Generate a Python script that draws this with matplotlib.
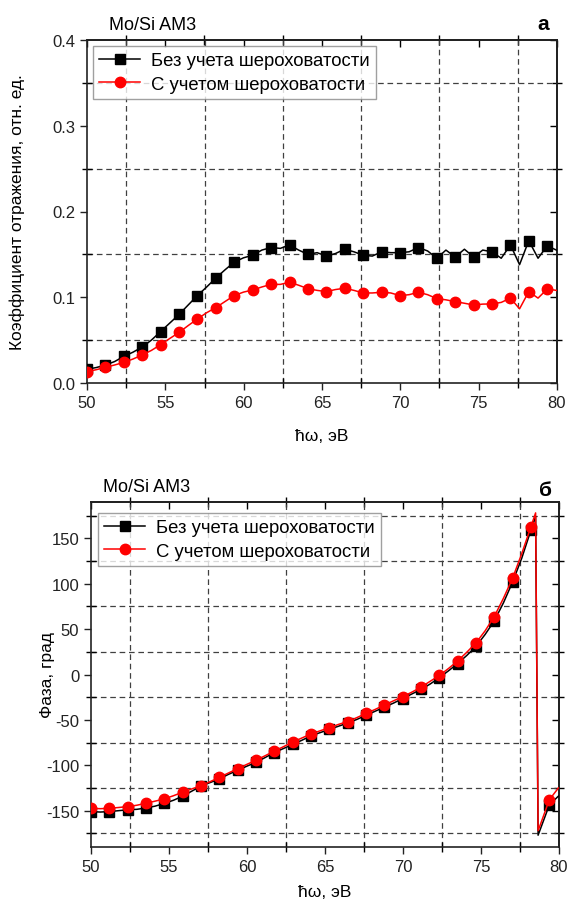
import matplotlib
matplotlib.use("Agg")
import matplotlib.pyplot as plt
from matplotlib.ticker import MultipleLocator

plt.rcParams['font.family'] = ['Liberation Sans', 'DejaVu Sans']
plt.rcParams['axes.unicode_minus'] = False

# ---------------- data ----------------
# energies where markers are drawn
marker_energy = [50.00, 51.18, 52.35, 53.53, 54.70, 55.88, 57.05, 58.23, 59.40, 60.58,
                 61.75, 62.93, 64.10, 65.28, 66.45, 67.63, 68.80, 69.98, 71.15, 72.33,
                 73.50, 74.68, 75.85, 77.03, 78.20, 79.38]

# reflectivity panel (a)
energy_refl = [50.00, 50.59, 51.18, 51.76, 52.35, 52.94, 53.53, 54.11, 54.70, 55.29,
               55.88, 56.46, 57.05, 57.64, 58.23, 58.81, 59.40, 59.99, 60.58, 61.16,
               61.75, 62.34, 62.93, 63.51, 64.10, 64.69, 65.28, 65.86, 66.45, 67.04,
               67.63, 68.21, 68.80, 69.39, 69.98, 70.56, 71.15, 71.74, 72.33, 72.91,
               73.50, 74.09, 74.68, 75.26, 75.85, 76.44, 77.03, 77.61, 78.20, 78.79,
               79.38, 79.96]
refl_smooth = [0.016, 0.018, 0.021, 0.025, 0.031, 0.036, 0.042, 0.050, 0.060, 0.070,
               0.080, 0.091, 0.102, 0.112, 0.1225, 0.132, 0.141, 0.146, 0.149, 0.155,
               0.158, 0.157, 0.161, 0.155, 0.150, 0.152, 0.148, 0.151, 0.156, 0.153,
               0.149, 0.148, 0.153, 0.152, 0.152, 0.153, 0.158, 0.154, 0.1455, 0.155,
               0.147, 0.156, 0.147, 0.155, 0.153, 0.1455, 0.161, 0.138, 0.166, 0.1455,
               0.160, 0.155]
refl_rough = [0.0132, 0.0155, 0.0183, 0.021, 0.024, 0.028, 0.0327, 0.038, 0.0447, 0.052,
              0.059, 0.067, 0.0747, 0.082, 0.088, 0.095, 0.102, 0.106, 0.1085, 0.112,
              0.115, 0.115, 0.1175, 0.114, 0.110, 0.108, 0.1066, 0.109, 0.1105, 0.108,
              0.105, 0.105, 0.1058, 0.105, 0.1019, 0.103, 0.1058, 0.103, 0.0984, 0.097,
              0.0949, 0.093, 0.091, 0.092, 0.0922, 0.094, 0.099, 0.0865, 0.1066, 0.099,
              0.1097, 0.108]

# phase panel (б)
energy_phase = [50.00, 50.59, 51.18, 51.76, 52.35, 52.94, 53.53, 54.11, 54.70, 55.29,
                55.88, 56.46, 57.05, 57.64, 58.23, 58.81, 59.40, 59.99, 60.58, 61.16,
                61.75, 62.34, 62.93, 63.51, 64.10, 64.69, 65.28, 65.86, 66.45, 67.04,
                67.63, 68.21, 68.80, 69.39, 69.98, 70.56, 71.15, 71.74, 72.33, 72.91,
                73.50, 74.09, 74.68, 75.26, 75.85, 76.44, 77.03, 77.61, 78.20, 78.50,
                78.66, 78.79, 79.38, 79.96]
phase_smooth = [-151, -151.5, -151, -150, -149, -148.5, -147, -145, -142, -138.5,
                -134, -128.5, -123, -119, -115, -110, -105.5, -101, -96.7, -91.5,
                -86, -81.5, -77, -72.5, -67.6, -64, -60.5, -57, -53.5, -49.5,
                -45, -40.5, -36, -31.5, -26.5, -21.5, -16.5, -10.5, -3.5, 4,
                12, 21, 31, 44, 59, 79, 102, 128, 159, 174,
                -177, -171, -143.7, -134]
phase_rough = [-147.4, -147.8, -147.4, -146.5, -145.5, -144, -141.8, -139.5, -137, -133.5,
               -129.6, -126, -122.6, -118, -113.3, -108.5, -103.7, -99, -94.4, -89.5,
               -84.4, -79.5, -74.4, -70, -65.5, -62, -58.5, -55, -51.8, -47.5,
               -42.9, -38.5, -33.7, -29, -24.4, -19.5, -14.0, -7.5, -1.1, 6.5,
               14.9, 24.5, 34.9, 48, 63.8, 84, 106.3, 133, 162.7, 178,
               -172, -166, -138, -125]

label_smooth = "Без учета шероховатости"
label_rough = "С учетом шероховатости"
xlabel = "ħω, эВ"
ylabel_refl = "Коэффициент отражения, отн. ед."
ylabel_phase = "Фаза, град"
sample = "Mo/Si AM3"

W, H = 567, 904


def mark_idx(xs):
    return [i for i, e in enumerate(xs) if any(abs(e - m) < 1e-6 for m in marker_energy)]


fig = plt.figure(figsize=(W / 100, H / 100), dpi=100)
ax1 = fig.add_axes([87 / W, 1 - 384 / H, (557 - 87) / W, (384 - 41) / H])
ax2 = fig.add_axes([91 / W, 1 - 848 / H, (559 - 91) / W, (848 - 503) / H])

grid_style = dict(which='minor', linestyle=(0, (4.5, 3)), color='#404040', linewidth=0.9)


def style(ax, ymaj, ymin):
    ax.set_xlim(50, 80)
    ax.xaxis.set_major_locator(MultipleLocator(5))
    ax.xaxis.set_minor_locator(MultipleLocator(2.5))
    ax.yaxis.set_major_locator(MultipleLocator(ymaj))
    ax.yaxis.set_minor_locator(MultipleLocator(ymin))
    ax.grid(**grid_style)
    ax.set_axisbelow(True)
    ax.tick_params(which='major', direction='out', length=5, width=1, labelsize=12,
                   colors='#222222')
    ax.tick_params(which='minor', direction='inout', length=7, width=1)
    for s in ax.spines.values():
        s.set_linewidth(1.2)
        s.set_color('#222222')
    for side in ('top', 'right'):
        sec = ax.secondary_xaxis('top') if side == 'top' else ax.secondary_yaxis('right')
        sax = sec.xaxis if side == 'top' else sec.yaxis
        sax.set_major_locator(MultipleLocator(5 if side == 'top' else ymaj))
        sax.set_minor_locator(MultipleLocator(2.5 if side == 'top' else ymin))
        sec.tick_params(which='major', direction='in', length=5, width=1,
                        labeltop=False, labelright=False)
        sec.tick_params(which='minor', direction='inout', length=7, width=1)
        sec.spines[side].set_linewidth(1.2)


# panel a
ax1.plot(energy_refl, refl_smooth, color='black', lw=1.1, marker='s', ms=6.5,
         markevery=mark_idx(energy_refl), label=label_smooth, zorder=3)
ax1.plot(energy_refl, refl_rough, color='red', lw=1.1, marker='o', ms=7.5,
         markevery=mark_idx(energy_refl), label=label_rough, zorder=3)
ax1.set_ylim(0, 0.4)
style(ax1, 0.1, 0.05)
ax1.yaxis.set_major_formatter(matplotlib.ticker.FormatStrFormatter('%.1f'))
ax1.set_xlabel(xlabel, fontsize=12.5)
ax1.set_ylabel(ylabel_refl, fontsize=12.5)
ax1.xaxis.set_label_coords(0.5, (384 - 429) / 343)
ax1.yaxis.set_label_coords((25 - 87) / 470, 0.5)

# panel b
ax2.plot(energy_phase, phase_smooth, color='black', lw=1.1, marker='s', ms=6.5,
         markevery=mark_idx(energy_phase), label=label_smooth, zorder=3)
ax2.plot(energy_phase, phase_rough, color='red', lw=1.1, marker='o', ms=7.5,
         markevery=mark_idx(energy_phase), label=label_rough, zorder=4)
ax2.set_ylim(-190, 190)
style(ax2, 50, 25)
ax2.set_xlabel(xlabel, fontsize=12.5)
ax2.set_ylabel(ylabel_phase, fontsize=12.5)
ax2.xaxis.set_label_coords(0.5, (848 - 885) / 345)
ax2.yaxis.set_label_coords((55 - 91) / 468, 0.5)

for ax, anchor in ((ax1, (93, 47)), (ax2, (98, 514))):
    bb = ax.get_position()
    lx = (anchor[0] / W - bb.x0) / bb.width
    ly = ((1 - anchor[1] / H) - bb.y0) / bb.height
    leg = ax.legend(loc='upper left', bbox_to_anchor=(lx, ly), fontsize=13.3,
                    frameon=True, fancybox=False, edgecolor='#888888',
                    borderaxespad=0, numpoints=1, handlelength=2.2,
                    handletextpad=0.6, borderpad=0.35, labelspacing=0.35)
    leg.get_frame().set_linewidth(1.0)
    leg.set_zorder(10)

fig.text(109 / W, 1 - 25 / H, sample, fontsize=13, va='center', ha='left')
fig.text(543 / W, 1 - 25 / H, "а", fontsize=15, fontweight='bold', va='center', ha='center')
fig.text(103 / W, 1 - 488 / H, sample, fontsize=13, va='center', ha='left')
fig.text(546 / W, 1 - 491 / H, "б", fontsize=15, fontweight='bold', va='center', ha='center')

fig.savefig("out.png", dpi=100)
